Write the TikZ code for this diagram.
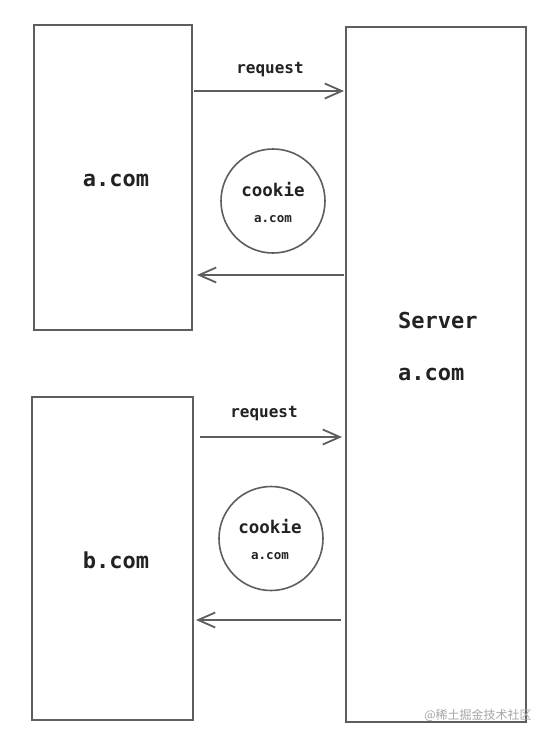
\documentclass[tikz,border=0pt]{standalone}
\usepackage{fontspec}
\setmonofont{DejaVu Sans Mono}
\newfontfamily\cjk{Noto Sans CJK SC}
\usetikzlibrary{arrows.meta}
\definecolor{linegray}{HTML}{5E5E5E}
\definecolor{txtgray}{HTML}{222222}
\tikzset{
  box/.style={draw=linegray, line width=2pt, rectangle, inner sep=0pt},
  cookiecircle/.style={draw=linegray, line width=1.6pt, circle, inner sep=0pt},
  msg/.style={draw=linegray, line width=1.8pt, -{Straight Barb[length=17pt,width=15pt,line width=1.8pt]}},
  bigtxt/.style={font=\ttfamily\bfseries\fontsize{22}{24}\selectfont, text=txtgray, inner sep=0pt},
  reqtxt/.style={font=\ttfamily\bfseries\fontsize{16}{18}\selectfont, text=txtgray, inner sep=0pt, anchor=base},
  cookietxt/.style={font=\ttfamily\bfseries\fontsize{17.5}{19}\selectfont, text=txtgray, inner sep=0pt, anchor=base},
  smalltxt/.style={font=\ttfamily\bfseries\fontsize{12.5}{14}\selectfont, text=txtgray, inner sep=0pt, anchor=base},
}
\begin{document}
\begin{tikzpicture}[x=1pt,y=-1pt]
\useasboundingbox[fill=white] (0,0) rectangle (550,740);
% boxes
\node[box, minimum width=158pt, minimum height=305pt] (acom) at (113,177.5) {};
\node[box, minimum width=180pt, minimum height=695pt] (server) at (436,374.5) {};
\node[box, minimum width=161pt, minimum height=323pt] (bcom) at (112.5,558.5) {};
% box texts
\node[bigtxt, anchor=base] (acomtxt) at (116,186) {a.com};
\node[bigtxt, anchor=base] (bcomtxt) at (116,568) {b.com};
\node[bigtxt, anchor=base west] (servertxt) at (398,328) {Server};
\node[bigtxt, anchor=base west] (serverdom) at (398,380) {a.com};
% circles
\node[cookiecircle, minimum size=104pt] (c1) at (273,201) {};
\node[cookietxt] (c1a) at (273,196) {cookie};
\node[smalltxt] (c1b) at (273,222) {a.com};
\node[cookiecircle, minimum size=104pt] (c2) at (271,538.5) {};
\node[cookietxt] (c2a) at (270,533) {cookie};
\node[smalltxt] (c2b) at (270,559) {a.com};
% request labels
\node[reqtxt] (r1) at (270,73) {request};
\node[reqtxt] (r2) at (264,417) {request};
% coordinates for arrow rows
\coordinate (y1) at (0,91);
\coordinate (y2) at (0,275);
\coordinate (y3) at (0,437);
\coordinate (y4) at (0,620);
% arrows
\draw[msg, shorten <=1pt, shorten >=1pt] (acom.east |- y1) -- (server.west |- y1);
\draw[msg, shorten <=1pt, shorten >=4pt] (server.west |- y2) -- (acom.east |- y2);
\draw[msg, shorten <=6pt, shorten >=3pt] (bcom.east |- y3) -- (server.west |- y3);
\draw[msg, shorten <=4pt, shorten >=2pt] (server.west |- y4) -- (bcom.east |- y4);
% watermark
\node[font=\cjk\fontsize{12}{14}\selectfont, text=black!35, inner sep=0pt] (wm) at (478,715) {@稀土掘金技术社区};
\end{tikzpicture}
\end{document}
